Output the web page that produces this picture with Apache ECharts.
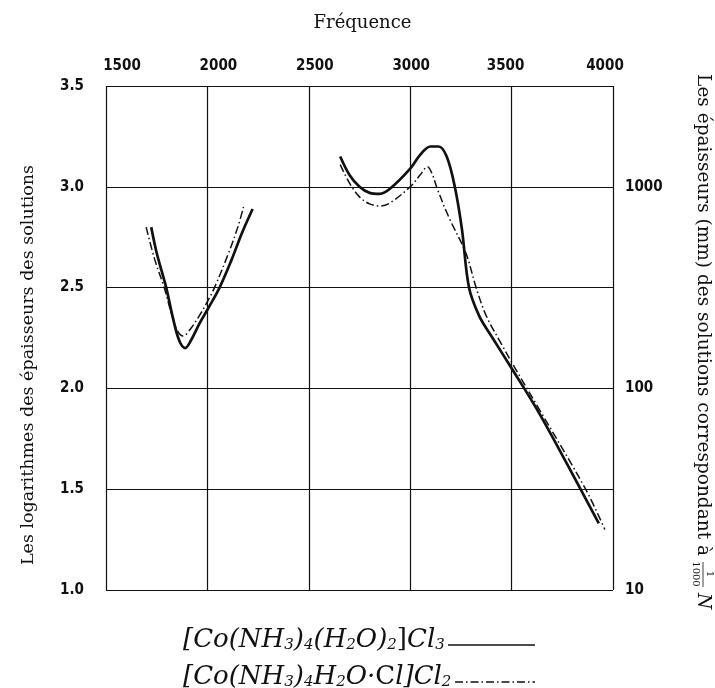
<!DOCTYPE html>
<html><head><meta charset="utf-8">
<script src="https://cdn.jsdelivr.net/npm/echarts@6/dist/echarts.min.js"></script>
<style>html,body{margin:0;padding:0;background:#fff}#c{width:715px;height:688px}</style>
</head><body><div id="c"></div>
<script>
// Axis ticks
const freqTicks = [1500, 2000, 2500, 3000, 3500, 4000];
const logTicks = [1.0, 1.5, 2.0, 2.5, 3.0, 3.5];
const thicknessTicks = [10, 100, 1000];

// [Co(NH3)4(H2O)2]Cl3  (solid line)
const aquoLeftFreq = [1723, 1748, 1775, 1797, 1830, 1860, 1890, 1920, 1960, 2000, 2060, 2120, 2170, 2223];
const aquoLeftLog  = [2.80, 2.68, 2.58, 2.50, 2.35, 2.24, 2.20, 2.24, 2.32, 2.39, 2.50, 2.64, 2.77, 2.89];
const aquoRightFreq = [2655, 2700, 2750, 2800, 2850, 2900, 3000, 3050, 3100, 3140, 3180, 3220, 3255, 3290, 3340, 3400, 3500, 3640, 3840, 3930];
const aquoRightLog  = [3.15, 3.06, 3.00, 2.97, 2.965, 2.99, 3.09, 3.16, 3.20, 3.20, 3.15, 3.00, 2.79, 2.50, 2.36, 2.26, 2.10, 1.87, 1.50, 1.33];

// [Co(NH3)4H2O·Cl]Cl2  (dash-dot line)
const chloroLeftFreq = [1698, 1740, 1787, 1820, 1850, 1880, 1920, 1960, 2000, 2035, 2100, 2150, 2178];
const chloroLeftLog  = [2.80, 2.64, 2.50, 2.38, 2.29, 2.26, 2.30, 2.36, 2.43, 2.50, 2.66, 2.80, 2.90];
const chloroRightFreq = [2655, 2700, 2750, 2800, 2850, 2900, 3000, 3050, 3085, 3110, 3130, 3190, 3275, 3325, 3375, 3450, 3500, 3640, 3865, 3960];
const chloroRightLog  = [3.11, 3.02, 2.95, 2.915, 2.905, 2.92, 3.00, 3.06, 3.10, 3.06, 3.00, 2.85, 2.67, 2.50, 2.36, 2.22, 2.13, 1.89, 1.50, 1.30];

const legendNames = ['[Co(NH3)4(H2O)2]Cl3', '[Co(NH3)4H2O·Cl]Cl2'];
const xTitle = 'Fréquence';
const yTitle = 'Les logarithmes des épaisseurs des solutions';
const y2Title = 'Les épaisseurs (mm) des solutions correspondant à';

const zip = (a, b) => a.map((v, i) => [v, b[i]]);
const tickFont = "'Liberation Sans Narrow', 'DejaVu Sans Condensed', 'Liberation Sans', sans-serif";
const serif = "'DejaVu Serif', 'Liberation Serif', serif";

const solidStyle = { color: '#111', width: 2.7, type: 'solid' };
const dashStyle = { color: '#111', width: 1.5, type: [8, 3, 1.5, 3] };

function lineSeries(name, data, style) {
  return { name, type: 'line', data, smooth: 0.35, showSymbol: false, symbol: 'none',
           lineStyle: style, itemStyle: { color: '#111' }, silent: true, z: 5 };
}

// slight horizontal nudges of the printed top labels (as in the scanned original)
const topLabelStyles = {
  a: { padding: [0, 0, 0, 32] }, b: { padding: [0, 0, 0, 22] }, c: { padding: [0, 0, 0, 12] },
  d: { padding: [0, 0, 0, 2] }, e: { padding: [0, 12, 0, 0] }, f: { padding: [0, 16, 0, 0] }
};
const topKeys = ['a', 'b', 'c', 'd', 'e', 'f'];

const chart = echarts.init(document.getElementById('c'), null, { renderer: 'canvas' });

const sub = { fontSize: 15, fontFamily: serif, fontStyle: 'italic', verticalAlign: 'bottom', lineHeight: 12 };
const main = { fontSize: 26, fontFamily: serif, fontStyle: 'italic', verticalAlign: 'bottom', lineHeight: 30 };
const up = { fontSize: 26, fontFamily: serif, verticalAlign: 'bottom', lineHeight: 30 };

chart.setOption({
  backgroundColor: '#fff',
  animation: false,
  grid: { left: 106, right: 102, top: 86, bottom: 98 },
  xAxis: {
    type: 'value', position: 'top', min: freqTicks[0], max: freqTicks[freqTicks.length - 1], interval: 500,
    name: xTitle, nameLocation: 'middle', nameGap: 54,
    nameTextStyle: { fontFamily: serif, fontSize: 18, color: '#111', padding: [0, 0, 0, 6] },
    axisLine: { show: false }, axisTick: { show: false },
    axisLabel: { margin: 12, fontFamily: tickFont, fontWeight: 'bold', fontSize: 15, color: '#111',
                 formatter: v => { const i = freqTicks.indexOf(v); return i < 0 ? '' : '{' + topKeys[i] + '|' + v + '}'; },
                 rich: topLabelStyles },
    splitLine: { show: true, lineStyle: { color: '#111', width: 1.2 } }
  },
  yAxis: [{
    type: 'value', position: 'left', min: logTicks[0], max: logTicks[logTicks.length - 1], interval: 0.5,
    axisLine: { show: false }, axisTick: { show: false },
    axisLabel: { margin: 22, fontFamily: tickFont, fontWeight: 'bold', fontSize: 15, color: '#111',
                 formatter: v => v.toFixed(1) },
    splitLine: { show: true, lineStyle: { color: '#111', width: 1.2 } }
  }, {
    type: 'log', logBase: 10, position: 'right', min: thicknessTicks[0], max: Math.pow(10, 3.5),
    axisLine: { show: false }, axisTick: { show: false }, splitLine: { show: false },
    axisLabel: { margin: 12, fontFamily: tickFont, fontWeight: 'bold', fontSize: 15, color: '#111',
                 formatter: v => { const r = Math.round(v); return (thicknessTicks.includes(r) && Math.abs(v - r) < 1e-6) ? String(r) : ''; } }
  }],
  series: [
    lineSeries(legendNames[0], zip(aquoLeftFreq, aquoLeftLog), solidStyle),
    lineSeries(legendNames[0], zip(aquoRightFreq, aquoRightLog), solidStyle),
    lineSeries(legendNames[1], zip(chloroLeftFreq, chloroLeftLog), dashStyle),
    lineSeries(legendNames[1], zip(chloroRightFreq, chloroRightLog), dashStyle)
  ],
  graphic: [
    {
      type: 'text', x: 28, y: 365, rotation: Math.PI / 2,
      style: { text: yTitle, align: 'center', verticalAlign: 'middle', font: "17.5px 'DejaVu Serif', serif", fill: '#111' }
    },
    {
      type: 'group', x: 703, y: 560, rotation: -Math.PI / 2,
      children: [
        { type: 'text', x: -4, y: 0, style: { text: y2Title, align: 'right', verticalAlign: 'middle', font: "18.5px 'DejaVu Serif', serif", fill: '#111' } },
        { type: 'text', x: 14, y: -7, style: { text: '1', align: 'center', verticalAlign: 'middle', font: "10px 'DejaVu Serif', serif", fill: '#111' } },
        { type: 'line', shape: { x1: 2, y1: 0, x2: 27, y2: 0 }, style: { stroke: '#111', lineWidth: 0.8 } },
        { type: 'text', x: 14, y: 7, style: { text: '1000', align: 'center', verticalAlign: 'middle', font: "10px 'DejaVu Serif', serif", fill: '#111' } },
        { type: 'text', x: 33, y: 0, style: { text: 'N', align: 'left', verticalAlign: 'middle', font: "italic 18.5px 'DejaVu Serif', serif", fill: '#111' } }
      ]
    },
    {
      type: 'text', x: 183, y: 653,
      style: {
        text: '{m|[Co(NH}{s|3}{m|)}{s|4}{m|(H}{s|2}{m|O)}{s|2}{u|]}{m|Cl}{s|3}',
        align: 'left', verticalAlign: 'bottom', fill: '#111',
        rich: { m: main, s: sub, u: up }
      }
    },
    { type: 'line', shape: { x1: 448, y1: 645, x2: 535, y2: 645 }, style: { stroke: '#111', lineWidth: 1.3 } },
    {
      type: 'text', x: 183, y: 690,
      style: {
        text: '{m|[Co(NH}{s|3}{m|)}{s|4}{m|H}{s|2}{m|O·}{u|C}{m|l]Cl}{s|2}',
        align: 'left', verticalAlign: 'bottom', fill: '#111',
        rich: { m: main, s: sub, u: up }
      }
    },
    { type: 'line', shape: { x1: 455, y1: 682, x2: 535, y2: 682 }, style: { stroke: '#111', lineWidth: 1.3, lineDash: [8, 3, 1.5, 3] } }
  ]
});
</script></body></html>
